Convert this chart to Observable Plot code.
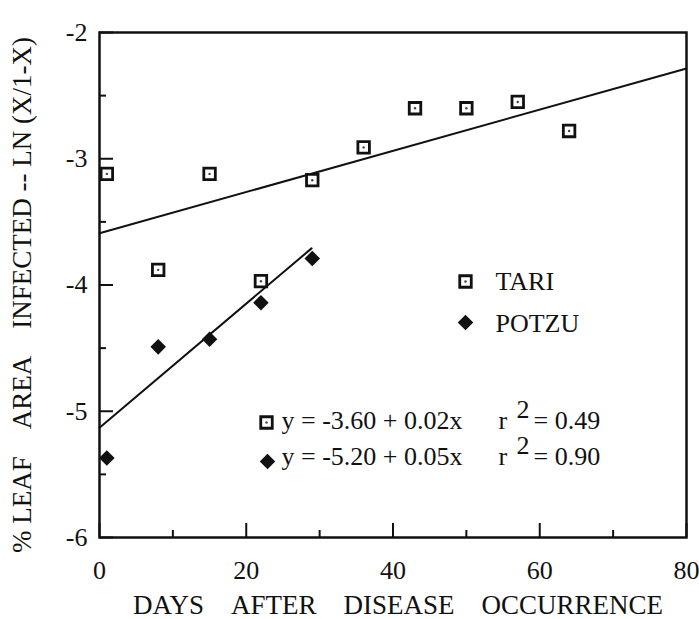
<!DOCTYPE html>
<html><head><meta charset="utf-8">
<script src="https://cdn.jsdelivr.net/npm/d3@7"></script>
<script src="https://cdn.jsdelivr.net/npm/@observablehq/plot@0.6"></script>
<style>
body{margin:0;background:#fff}
#chart svg, #chart svg text{font-family:"Liberation Serif", "Times New Roman", serif !important;}
</style>
</head><body><div id="chart"></div>
<script>
// ---- data ----
const tariDays = [1, 8, 15, 22, 29, 36, 43, 50, 57, 64];
const tariValues = [-3.12, -3.88, -3.12, -3.97, -3.17, -2.91, -2.60, -2.60, -2.55, -2.78];
const potzuDays = [1, 8, 15, 22, 29];
const potzuValues = [-5.37, -4.49, -4.43, -4.14, -3.79];
const tariFitDays = [0, 80];
const tariFitValues = [-3.59, -2.285];
const potzuFitDays = [0, 28.9];
const potzuFitValues = [-5.13, -3.71];
const xTickValues = [0, 20, 40, 60, 80];
const xMinorTicks = [10, 30, 50, 70];
const yTickValues = [-2, -3, -4, -5, -6];
const yMinorTicks = [-2.5, -3.5, -4.5, -5.5];
const seriesNames = ["TARI", "POTZU"];
const equations = ["y = -3.60 + 0.02x", "y = -5.20 + 0.05x"];
const r2Values = ["= 0.49", "= 0.90"];
const xLabel = "DAYS AFTER DISEASE OCCURRENCE";
const yLabel = "% LEAF AREA INFECTED -- LN (X/1-X)";

// ---- layout ----
const W = 699, H = 619, ML = 99, MR = 13, MT = 32, MB = 82;
const plotW = W - ML - MR, plotH = H - MT - MB;
const ink = "#111";
const nb = n => "\u00a0".repeat(n);
const xLabelText = xLabel.split(" ").join(nb(4));
const yWords = yLabel.split(" ");
const yLabelText = yWords[0] + nb(1) + yWords[1] + nb(4) + yWords[2] + nb(4) + yWords.slice(3).join(nb(1));

const pts = (xs, ys) => xs.map((x, i) => ({x, y: ys[i]}));
const tari = pts(tariDays, tariValues);
const potzu = pts(potzuDays, potzuValues);

const squareMark = (dx, dy) => [
  Plot.dot([0], {x: null, y: null, frameAnchor: "top-left", dx, dy, symbol: "square", r: 6.5, fill: "white", stroke: ink, strokeWidth: 2.8}),
  Plot.dot([0], {x: null, y: null, frameAnchor: "top-left", dx, dy, r: 1.2, fill: "#444", stroke: "none"})
];
const diamondMark = (dx, dy) =>
  Plot.dot([0], {x: null, y: null, frameAnchor: "top-left", dx, dy, symbol: "diamond2", r: 7, fill: ink, stroke: "none"});
const label = (t, dx, dy, opts = {}) =>
  Plot.text([t], {frameAnchor: "top-left", dx, dy, text: d => d, textAnchor: "start", lineAnchor: "bottom", fill: ink, ...opts});

const eqRows = [{marker: "square", base: 428, mx: 266, my: 422}, {marker: "diamond", base: 464, mx: 267, my: 461}];

const chart = Plot.plot({
  width: W, height: H,
  marginLeft: ML, marginRight: MR, marginTop: MT, marginBottom: MB,
  x: {domain: [0, 80]},
  y: {domain: [-6, -2]},
  style: {fontFamily: "Liberation Serif", fontSize: "26px", background: "white", color: ink},
  marks: [
    Plot.axisX({ticks: xTickValues, tickSize: 0, tickPadding: 23, tickFormat: d => `${d}`, label: null, fill: ink}),
    Plot.axisY({ticks: yTickValues, tickSize: 0, tickPadding: 12, tickFormat: d => `${d}`, label: null, fill: ink}),
    Plot.tickX(xTickValues, {x: d => d, insetTop: plotH - 14, stroke: ink, strokeWidth: 2}),
    Plot.tickX(xMinorTicks, {x: d => d, insetTop: plotH - 7, stroke: ink, strokeWidth: 2}),
    Plot.tickY(yTickValues, {y: d => d, insetRight: plotW - 14, stroke: ink, strokeWidth: 2}),
    Plot.tickY(yMinorTicks, {y: d => d, insetRight: plotW - 7, stroke: ink, strokeWidth: 2}),
    Plot.line(pts(tariFitDays, tariFitValues), {x: "x", y: "y", stroke: ink, strokeWidth: 2}),
    Plot.line(pts(potzuFitDays, potzuFitValues), {x: "x", y: "y", stroke: ink, strokeWidth: 2}),
    Plot.dot(tari, {x: "x", y: "y", symbol: "square", r: 6.5, fill: "white", stroke: ink, strokeWidth: 2.8}),
    Plot.dot(tari, {x: "x", y: "y", r: 1.2, fill: "#444", stroke: "none"}),
    Plot.dot(potzu, {x: "x", y: "y", symbol: "diamond2", r: 7, fill: ink, stroke: "none"}),
    Plot.frame({stroke: ink, strokeWidth: 2.5}),
    // legend
    ...squareMark(465 - ML, 281 - MT),
    diamondMark(465 - ML, 322 - MT),
    label(seriesNames[0], 495 - ML, 289 - MT),
    label(seriesNames[1], 495 - ML, 331 - MT),
    // equations
    ...eqRows.flatMap((row, i) => [
      ...(row.marker === "square" ? squareMark(row.mx - ML, row.my - MT) : [diamondMark(row.mx - ML, row.my - MT)]),
      label(equations[i], 281 - ML, row.base - MT),
      label("r", 498 - ML, row.base - MT),
      label("2", 516 - ML, row.base - 11 - MT),
      label(r2Values[i], 533 - ML, row.base - MT)
    ]),
    // axis titles
    Plot.text([xLabelText], {frameAnchor: "bottom", dx: 5, dy: 68, text: d => d, textAnchor: "middle", lineAnchor: "middle", fill: ink, fontSize: 27}),
    Plot.text([yLabelText], {frameAnchor: "left", dx: -77, dy: 10, rotate: -90, text: d => d, textAnchor: "middle", lineAnchor: "middle", fill: ink, fontSize: 27})
  ]
});
document.getElementById("chart").append(chart);
</script>
</body></html>
